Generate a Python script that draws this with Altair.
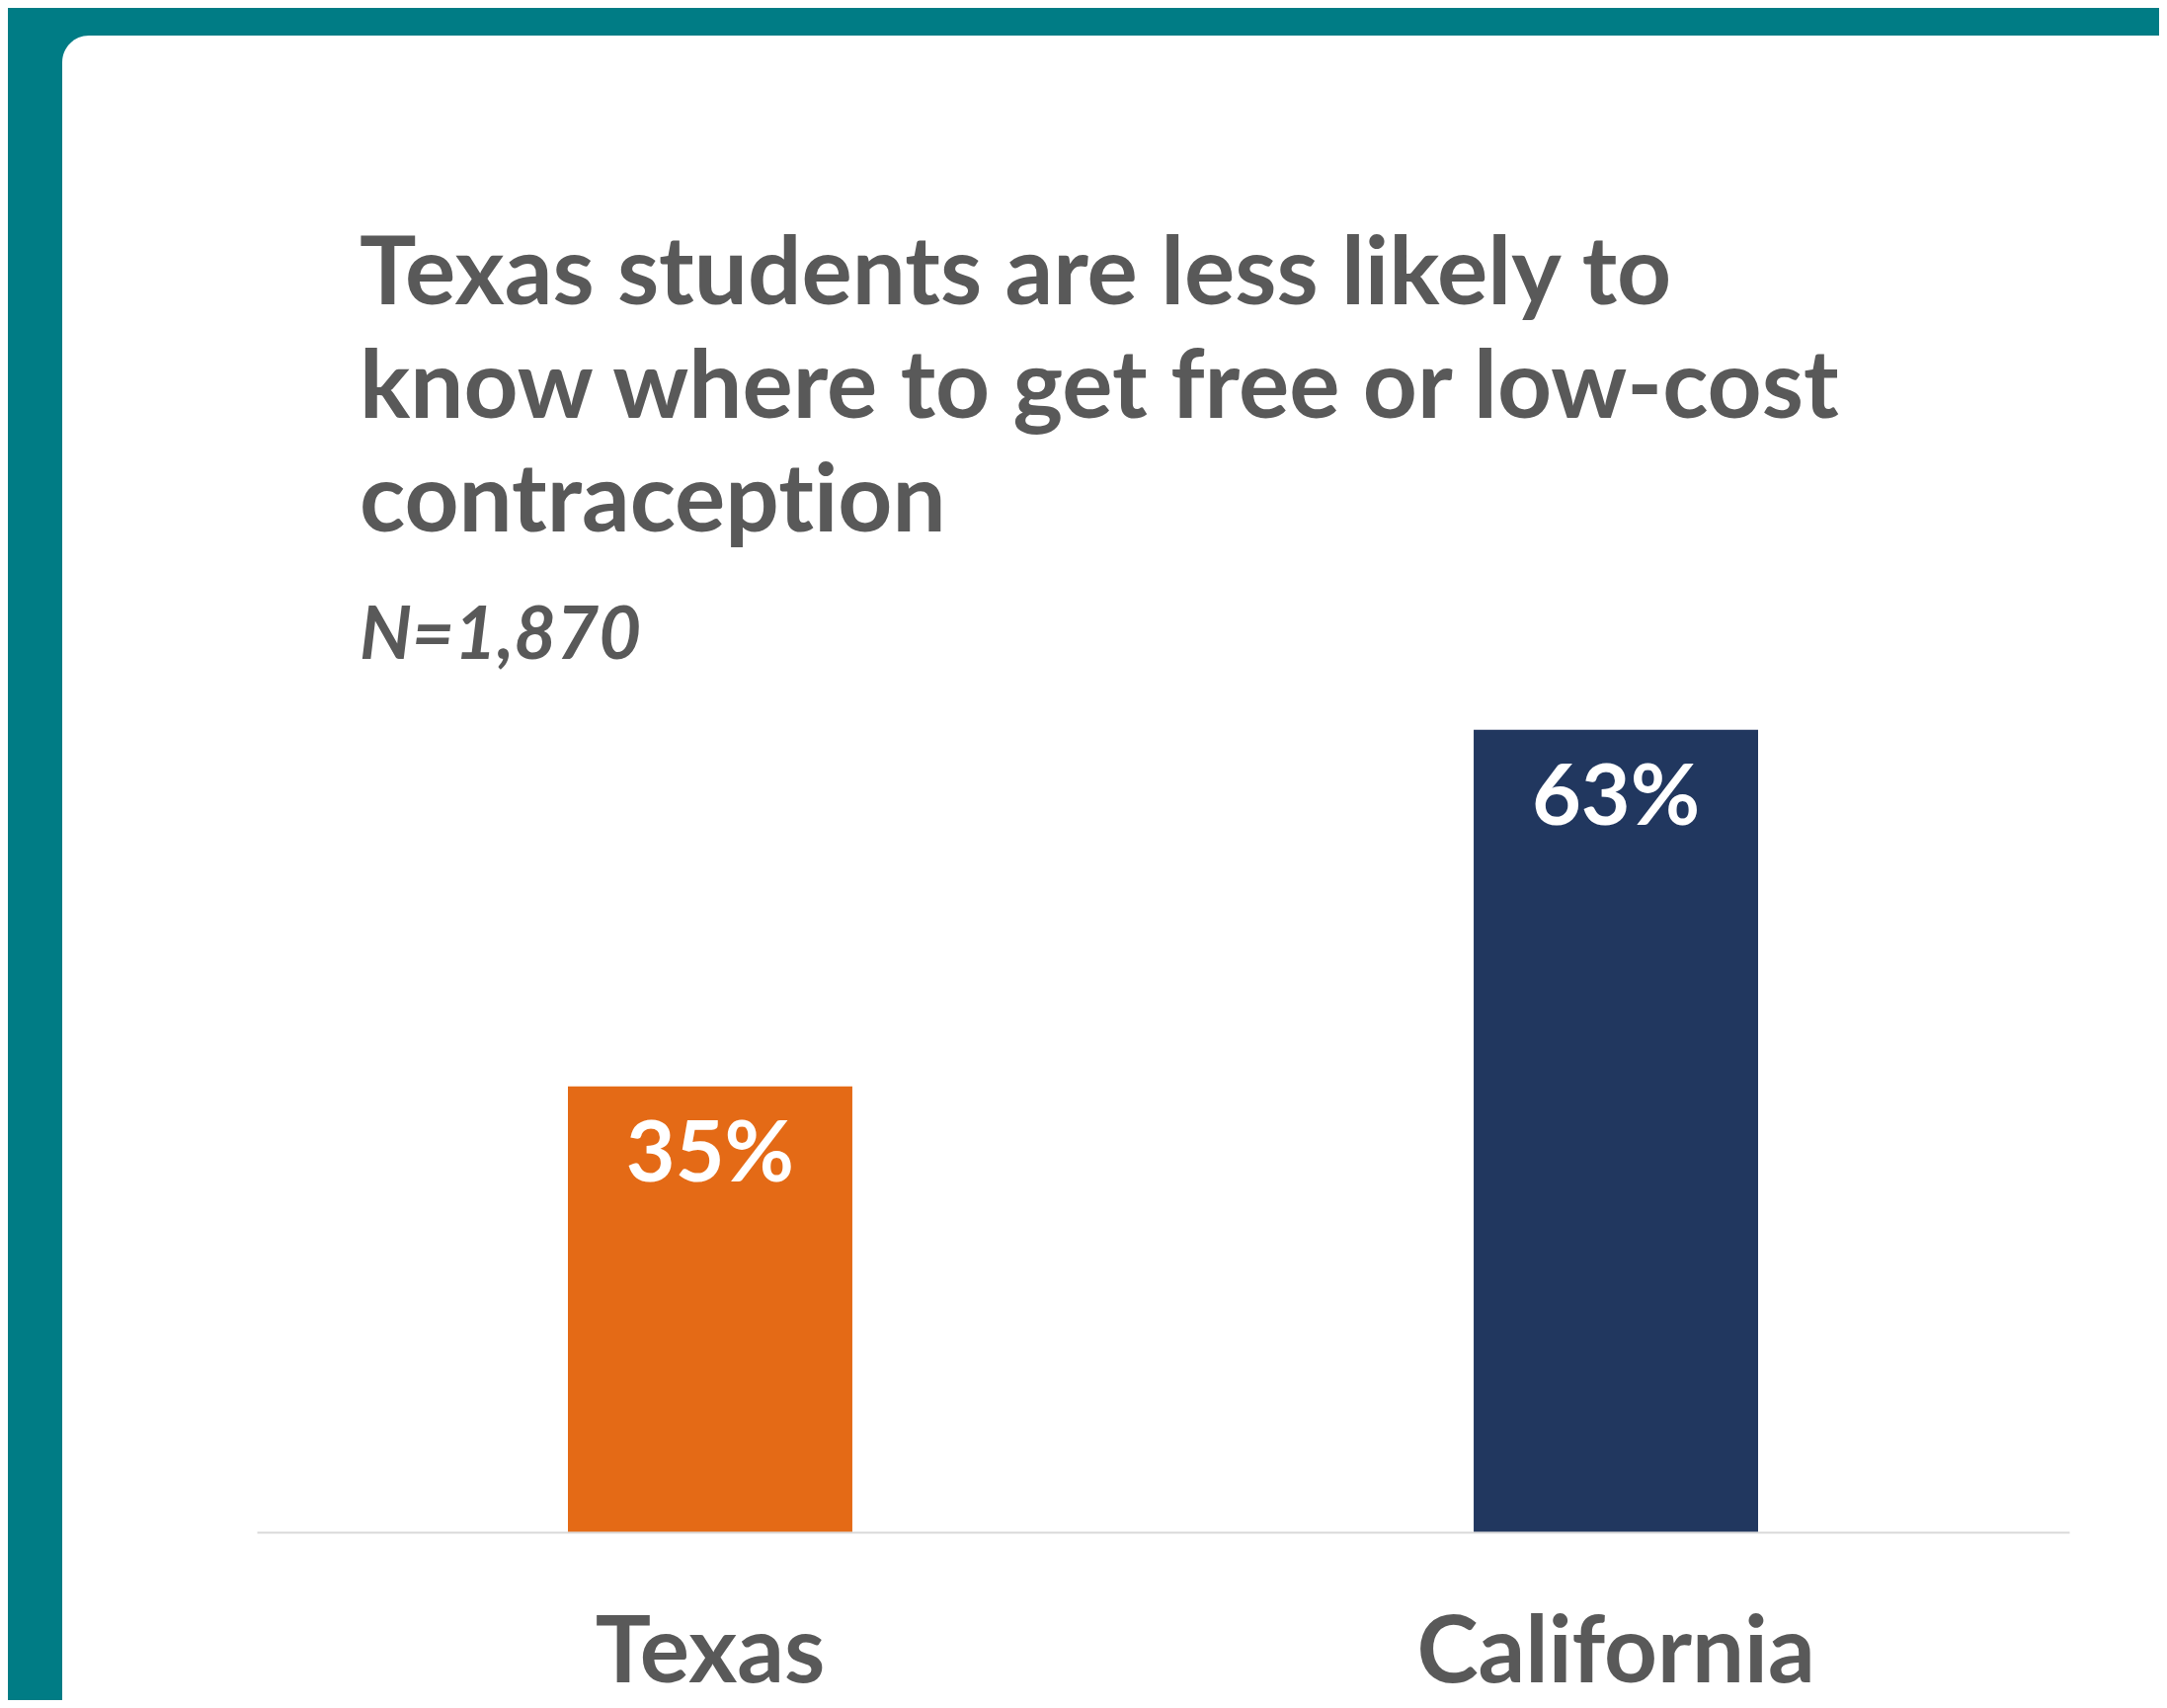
import altair as alt
import pandas as pd

# ---- data ----
states = ["Texas", "California"]
shares = [35, 63]
share_labels = ["35%", "63%"]
bar_colors = ["#E46A16", "#21375F"]

title_lines = [
    "Texas students are less likely to",
    "know where to get free or low-cost",
    "contracept\u200cion",
]
subtitle_text = "N=1,870"

df = pd.DataFrame({"state": states, "share": shares, "label": share_labels})

W, H = 1835, 838
GRAY = "#595959"
TEAL = "#007C85"

x_enc = alt.X(
    "state:N",
    sort=states,
    scale=alt.Scale(paddingInner=0.686, paddingOuter=0.3435),
    axis=alt.Axis(
        title=None, labelAngle=0, labelFont="Lato", labelFontWeight="bold",
        labelFontSize=94, labelColor=GRAY, labelPadding=77, labelLimit=0,
        ticks=False, tickSize=0, domainColor="#d9d9d9", domainWidth=2,
        zindex=1, grid=False,
    ),
)
y_enc = alt.Y("share:Q", scale=alt.Scale(domain=[0, 65], nice=False, zero=True), axis=None)

card = alt.Chart(pd.DataFrame({"c": [0]})).mark_rect(fill="white", cornerRadius=27).encode(
    x=alt.value(-197), x2=alt.value(W + 200), y=alt.value(-677), y2=alt.value(H + 300)
)

base = alt.Chart(df)
bars = base.mark_bar().encode(
    x=x_enc,
    y=y_enc,
    color=alt.Color("state:N", scale=alt.Scale(domain=states, range=bar_colors), legend=None),
)
labels = base.mark_text(
    font="Lato", fontWeight="bold", fontSize=86, color="white",
    baseline="alphabetic", align="center", dy=96,
).encode(x=x_enc, y=y_enc, text="label:N")

chart = alt.layer(card, bars, labels).properties(
    width=W,
    height=H,
    title=alt.TitleParams(
        text=title_lines,
        subtitle=subtitle_text,
        anchor="start",
        frame="group",
        align="left",
        dx=104,
        offset=-647,
        font="Lato",
        fontSize=96,
        fontWeight="bold",
        color=GRAY,
        lineHeight=115,
        subtitleFont="Lato",
        subtitleFontSize=74,
        subtitleFontStyle="italic",
        subtitleFontWeight="bold",
        subtitleColor=GRAY,
        subtitlePadding=51,
    ),
    autosize=alt.AutoSizeParams(type="none"),
    padding={"left": 252, "top": 705, "right": 91, "bottom": 170},
).configure(background=TEAL).configure_view(stroke=None)

chart.save("out.html", embed_options={"renderer": "svg", "actions": False})
